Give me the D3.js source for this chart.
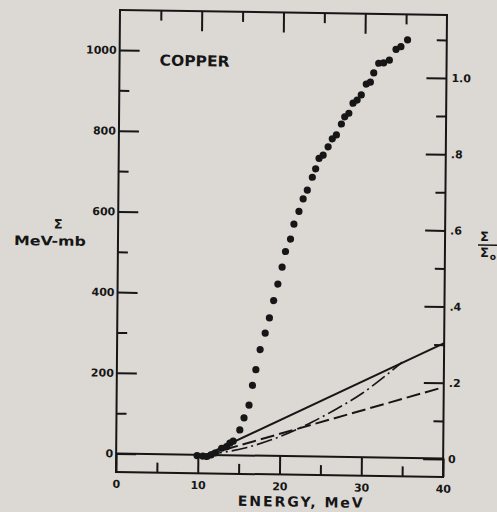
<!DOCTYPE html>
<html>
<head>
<meta charset="utf-8">
<script src="https://cdn.jsdelivr.net/npm/d3@7"></script>
<style>
  html, body { margin: 0; padding: 0; background: #dcd9d4; }
  svg { display: block; }
  text { font-family: "DejaVu Sans", "Liberation Sans", sans-serif; font-weight: bold; fill: #161616; }
</style>
</head>
<body>
<svg id="chart" width="497" height="512"></svg>
<script>
// ---- data ----
const dotEnergy = [9.9, 10.6, 11.1, 11.6, 12.1, 12.9, 13.5, 13.9, 14.3, 15.1, 15.6, 16.2, 16.6, 17.0, 17.5,
  18.1, 18.6, 19.1, 19.6, 20.1, 20.5, 21.1, 21.5, 22.1, 22.6, 23.1, 23.7, 24.1, 24.5, 25.0, 25.6, 26.1,
  26.6, 27.2, 27.6, 28.1, 28.6, 29.1, 29.6, 30.2, 30.7, 31.1, 31.7, 32.3, 33.0, 33.8, 34.4, 35.2];
const dotSigma = [-2, -3, -4, 0, 5, 17, 21, 30, 35, 63, 93, 125, 174, 213, 263,
  304, 342, 385, 426, 468, 507, 538, 575, 607, 638, 660, 692, 713, 739, 747, 768, 788,
  798, 825, 843, 852, 877, 885, 898, 925, 930, 953, 977, 978, 985, 1012, 1019, 1036];

const solidEnergy = [11, 40];
const solidSigma = [0, 286];
const dashedEnergy = [11, 40];
const dashedSigma = [0, 177];
const dashDotEnergy = [11, 16, 20, 24, 27, 30, 33, 34.9];
const dashDotSigma = [0, 20, 48, 86, 120, 158, 205, 237];
const zeroEnergy = [0, 40];
const zeroSigma = [0, 0];

const xMajor = [0, 10, 20, 30, 40];
const xMinor = [5, 15, 25, 35];
const yLeftMajor = [0, 200, 400, 600, 800, 1000];
const yLeftMinor = [100, 300, 500, 700, 900];
const yRightMajor = [0, 0.2, 0.4, 0.6, 0.8, 1.0];
const yRightLabels = ["0", ".2", ".4", ".6", ".8", "1.0"];
const yRightMinor = [0.1, 0.3, 0.5, 0.7, 0.9, 1.1];

// ---- layout ----
const svg = d3.select("#chart");
const fL = 120, fR = 447, fT = 10, fB = 472;
const ink = "#161616";

const x = d3.scaleLinear().domain([0, 40]).range([fL, fR]);
const yL = d3.scaleLinear().domain([0, 1000]).range([453.5, 50]);
const yR = d3.scaleLinear().domain([0, 1]).range([454, 73]);

// slight skew of the scanned original
const g = svg.append("g")
  .attr("transform", "matrix(1,0.0153,-0.0087,1,0.087,-1.836)");

// frame
g.append("rect")
  .attr("x", fL).attr("y", fT)
  .attr("width", fR - fL).attr("height", fB - fT)
  .attr("fill", "none").attr("stroke", ink).attr("stroke-width", 2);

function styleAxis(sel) {
  sel.select(".domain").remove();
  sel.selectAll(".tick line").attr("stroke", ink).attr("stroke-width", 2);
  sel.selectAll(".tick text").attr("font-size", 11).attr("fill", ink)
    .attr("font-family", '"DejaVu Sans", sans-serif').attr("font-weight", "bold");
}

// left axis
g.append("g").attr("transform", `translate(${fL},0)`)
  .call(d3.axisLeft(yL).tickValues(yLeftMajor).tickFormat(d3.format("d"))
    .tickSizeInner(-20).tickSizeOuter(0).tickPadding(3))
  .call(styleAxis);
g.append("g").attr("transform", `translate(${fL},0)`)
  .call(d3.axisLeft(yL).tickValues(yLeftMinor).tickFormat("")
    .tickSizeInner(-10).tickSizeOuter(0))
  .call(styleAxis);

// right axis
g.append("g").attr("transform", `translate(${fR},0)`)
  .call(d3.axisRight(yR).tickValues(yRightMajor)
    .tickFormat((d, i) => yRightLabels[i])
    .tickSizeInner(-20).tickSizeOuter(0).tickPadding(5))
  .call(styleAxis);
g.append("g").attr("transform", `translate(${fR},0)`)
  .call(d3.axisRight(yR).tickValues(yRightMinor).tickFormat("")
    .tickSizeInner(-10).tickSizeOuter(0))
  .call(styleAxis);

// bottom axis
g.append("g").attr("transform", `translate(0,${fB})`)
  .call(d3.axisBottom(x).tickValues(xMajor).tickFormat(d3.format("d"))
    .tickSizeInner(-(fB - yL(0))).tickSizeOuter(0).tickPadding(8))
  .call(styleAxis);
g.append("g").attr("transform", `translate(0,${fB})`)
  .call(d3.axisBottom(x).tickValues(xMinor).tickFormat("")
    .tickSizeInner(-10).tickSizeOuter(0))
  .call(styleAxis);

// top axis
g.append("g").attr("transform", `translate(0,${fT})`)
  .call(d3.axisTop(x).tickValues([10, 20, 30]).tickFormat("")
    .tickSizeInner(-20).tickSizeOuter(0))
  .call(styleAxis);
g.append("g").attr("transform", `translate(0,${fT})`)
  .call(d3.axisTop(x).tickValues(xMinor).tickFormat("")
    .tickSizeInner(-10).tickSizeOuter(0))
  .call(styleAxis);

// lines
const lineGen = d3.line().x(d => x(d[0])).y(d => yL(d[1]));
const curveGen = d3.line().x(d => x(d[0])).y(d => yL(d[1])).curve(d3.curveMonotoneX);

g.append("path").datum(d3.zip(zeroEnergy, zeroSigma))
  .attr("d", lineGen).attr("fill", "none").attr("stroke", ink).attr("stroke-width", 2);
g.append("path").datum(d3.zip(solidEnergy, solidSigma))
  .attr("d", lineGen).attr("fill", "none").attr("stroke", ink).attr("stroke-width", 2);
g.append("path").datum(d3.zip(dashedEnergy, dashedSigma))
  .attr("d", lineGen).attr("fill", "none").attr("stroke", ink).attr("stroke-width", 2)
  .attr("stroke-dasharray", "14,5");
g.append("path").datum(d3.zip(dashDotEnergy, dashDotSigma))
  .attr("d", curveGen).attr("fill", "none").attr("stroke", ink).attr("stroke-width", 1.6)
  .attr("stroke-dasharray", "16,4,2,4");

// dots
g.append("g").selectAll("circle")
  .data(d3.zip(dotEnergy, dotSigma))
  .join("circle")
  .attr("cx", d => x(d[0])).attr("cy", d => yL(d[1]))
  .attr("r", 3.6).attr("fill", ink);

// texts
g.append("text").attr("x", 160).attr("y", 65).attr("font-size", 15)
  .attr("textLength", 70).attr("lengthAdjust", "spacingAndGlyphs").text("COPPER");

g.append("text").attr("x", 242).attr("y", 504).attr("font-size", 14)
  .attr("textLength", 125).attr("lengthAdjust", "spacing").text("ENERGY, MeV");

g.append("text").attr("x", 16).attr("y", 246.5).attr("font-size", 13)
  .attr("textLength", 72).attr("lengthAdjust", "spacingAndGlyphs").text("MeV-mb");
g.append("text").attr("x", 60).attr("y", 229.5).attr("font-size", 13)
  .attr("text-anchor", "middle").text("Σ");

// right-hand label Σ / Σo (cut by the picture edge)
g.append("text").attr("x", 482).attr("y", 235.5).attr("font-size", 13).text("Σ");
g.append("line").attr("x1", 480).attr("x2", 500).attr("y1", 239.5).attr("y2", 239.5)
  .attr("stroke", ink).attr("stroke-width", 1.5);
g.append("text").attr("x", 482).attr("y", 251.5).attr("font-size", 13).text("Σ");
g.append("text").attr("x", 492).attr("y", 254).attr("font-size", 9).text("o");
</script>
</body>
</html>
